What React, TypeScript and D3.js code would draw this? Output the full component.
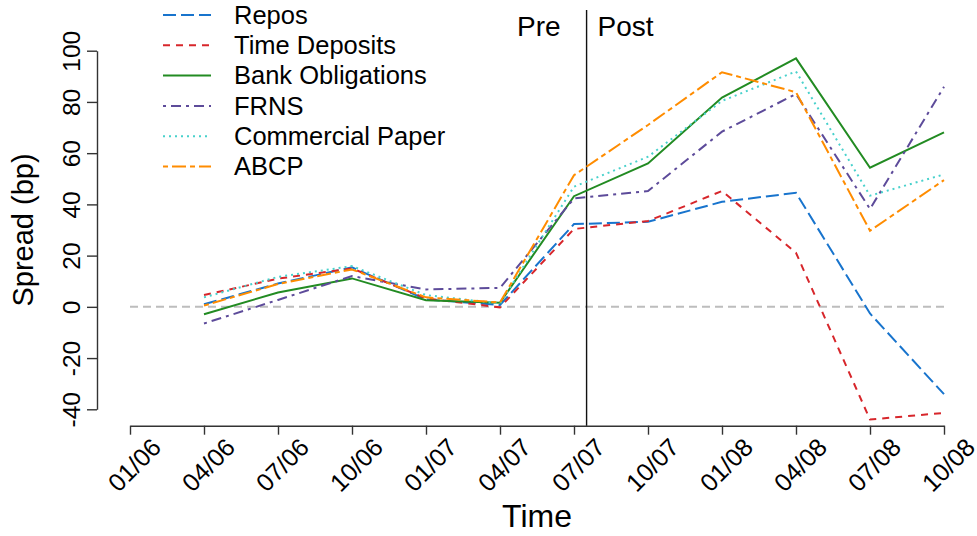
import React, { useEffect, useRef } from "react";
import * as d3 from "d3";

// quarter labels on the x axis
const quarters = ["01/06", "04/06", "07/06", "10/06", "01/07", "04/07", "07/07", "10/07", "01/08", "04/08", "07/08", "10/08"];

// spreads in bp, from 04/06 to 10/08 (no value at 01/06)
const repos = [1.0, 9.1, 15.4, 2.9, 0.7, 32.3, 33.2, 41.0, 44.5, -2.6, -34.1];
const timeDeposits = [4.6, 11.0, 15.0, 3.3, -0.2, 30.4, 33.5, 45.2, 21.1, -44.0, -41.4];
const bankObligations = [-2.9, 5.6, 11.1, 2.6, 1.6, 43.2, 56.0, 81.7, 97.0, 54.3, 68.1];
const frns = [-6.5, 2.7, 12.0, 6.8, 7.4, 42.3, 45.2, 68.4, 83.1, 38.2, 85.9];
const commercialPaper = [3.7, 11.7, 15.9, 4.6, 1.3, 46.9, 58.6, 80.4, 91.9, 43.4, 51.7];
const abcp = [0.5, 8.9, 14.6, 3.7, 1.7, 51.4, 71.0, 91.6, 83.8, 29.7, 49.5];

const seriesNames = ["Repos", "Time Deposits", "Bank Obligations", "FRNS", "Commercial Paper", "ABCP"];
const yTicks = [-40, -20, 0, 20, 40, 60, 80, 100];
const firstIndex = 1; // data starts at 04/06
const breakIndex = 6.17; // pre / post split, a bit after 07/07

const FONT = "'Liberation Sans', Arial, Helvetica, sans-serif";

export default function App() {
  const ref = useRef<SVGSVGElement | null>(null);

  useEffect(() => {
    const width = 977;
    const height = 536;
    const svg = d3.select(ref.current);
    svg.selectAll("*").remove();
    svg.attr("width", width).attr("height", height);

    const styles = [
      { color: "#1874CD", dash: "13 5", values: repos },
      { color: "#D7262B", dash: "7 6", values: timeDeposits },
      { color: "#228B22", dash: null, values: bankObligations },
      { color: "#5D4B9A", dash: "3 5 10 5", values: frns },
      { color: "#48D1CC", dash: "2 4", values: commercialPaper },
      { color: "#FF8C00", dash: "5 4 14 4", values: abcp },
    ];

    //SCALES
    const x = d3.scaleLinear().domain([0, quarters.length - 1]).range([130, 944]);
    const y = d3.scaleLinear().domain([-40, 100]).range([409.3, 50.7]);
    const xAxisY = 425.7;

    // zero line
    svg.append("line")
      .attr("x1", x(0)).attr("x2", x(quarters.length - 1))
      .attr("y1", y(0)).attr("y2", y(0))
      .attr("stroke", "#bdbdbd")
      .attr("stroke-width", 2)
      .attr("stroke-dasharray", "8 5");

    //AXIS
    const yAxis = d3.axisLeft(y)
      .tickValues(yTicks)
      .tickFormat((d) => String(d))
      .tickSize(10)
      .tickSizeOuter(0);
    const gy = svg.append("g")
      .attr("transform", `translate(97,0)`)
      .style("color", "#333")
      .call(yAxis);
    gy.selectAll("path, line").attr("stroke-width", 1.4);
    gy.selectAll("text")
      .attr("x", 0).attr("y", -17).attr("dy", null)
      .attr("transform", "rotate(-90)")
      .attr("text-anchor", "middle")
      .attr("font-size", 24.5)
      .attr("font-family", FONT)
      .attr("fill", "#000");

    const xAxis = d3.axisBottom(x)
      .tickValues(d3.range(quarters.length))
      .tickFormat((d) => quarters[d as number])
      .tickSize(9)
      .tickSizeOuter(0);
    const gx = svg.append("g")
      .attr("transform", `translate(0,${xAxisY})`)
      .style("color", "#333")
      .call(xAxis);
    gx.selectAll("path, line").attr("stroke-width", 1.4);
    gx.selectAll("text")
      .attr("x", 0).attr("y", 0).attr("dy", "0.35em")
      .attr("transform", "translate(26,17) rotate(-45)")
      .attr("text-anchor", "end")
      .attr("font-size", 25)
      .attr("font-family", FONT)
      .attr("fill", "#000");

    // pre / post marker
    svg.append("line")
      .attr("x1", x(breakIndex)).attr("x2", x(breakIndex))
      .attr("y1", 10).attr("y2", xAxisY)
      .attr("stroke", "#111")
      .attr("stroke-width", 1.4);
    svg.append("text")
      .text("Pre")
      .attr("x", x(breakIndex) - 26).attr("y", 36)
      .attr("text-anchor", "end")
      .attr("font-size", 28).attr("font-family", FONT);
    svg.append("text")
      .text("Post")
      .attr("x", x(breakIndex) + 11).attr("y", 36)
      .attr("font-size", 28).attr("font-family", FONT);

    // series
    const line = d3.line<number>()
      .x((d, i) => x(i + firstIndex))
      .y((d) => y(d));

    styles.forEach((s) => {
      svg.append("path")
        .datum(s.values)
        .attr("d", line)
        .attr("fill", "none")
        .attr("stroke", s.color)
        .attr("stroke-width", 2)
        .attr("stroke-dasharray", s.dash);
    });

    // labels
    svg.append("text")
      .text("Time")
      .attr("x", (x(0) + x(quarters.length - 1)) / 2)
      .attr("y", 527)
      .attr("text-anchor", "middle")
      .attr("font-size", 32).attr("font-family", FONT);
    svg.append("text")
      .text("Spread (bp)")
      .attr("transform", `translate(33,${(y(-40) + y(100)) / 2}) rotate(-90)`)
      .attr("text-anchor", "middle")
      .attr("font-size", 29).attr("font-family", FONT);

    // legend
    const legend = svg.append("g");
    seriesNames.forEach((name, i) => {
      const ly = 15 + i * 30.3;
      legend.append("line")
        .attr("x1", 163).attr("x2", 211)
        .attr("y1", ly).attr("y2", ly)
        .attr("stroke", styles[i].color)
        .attr("stroke-width", 2)
        .attr("stroke-dasharray", styles[i].dash);
      legend.append("text")
        .text(name)
        .attr("x", 234).attr("y", ly + 8.8)
        .attr("font-size", 25.5).attr("font-family", FONT);
    });
  }, []);

  return (
    <svg ref={ref} style={{ position: "absolute", left: 0, top: 0, background: "#fff" }} />
  );
}
